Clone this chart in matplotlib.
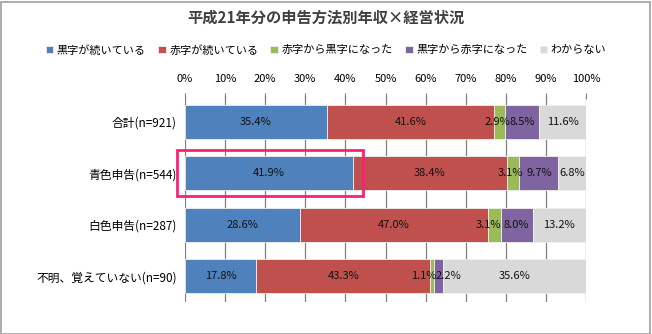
import numpy as np
import matplotlib.pyplot as plt
from matplotlib.patches import Rectangle

plt.rcParams['font.family'] = ['Noto Sans CJK JP', 'DejaVu Sans']

categories = ["合計(n=921)", "青色申告(n=544)", "白色申告(n=287)", "不明、覚えていない(n=90)"]
series_names = ["黒字が続いている", "赤字が続いている", "赤字から黒字になった", "黒字から赤字になった", "わからない"]
kuro = [35.4, 41.9, 28.6, 17.8]
aka = [41.6, 38.4, 47.0, 43.3]
aka_to_kuro = [2.9, 3.1, 3.1, 1.1]
kuro_to_aka = [8.5, 9.7, 8.0, 2.2]
wakaranai = [11.6, 6.8, 13.2, 35.6]
colors = ["#4F81BD", "#C0504D", "#9BBB59", "#8064A2", "#D9D9D9"]

# label nudges (series index, row) -> shift in %, to keep small labels apart
nudge = {(2, 3): -2.0, (3, 3): 2.5, (2, 0): -0.6, (2, 1): -0.8, (2, 2): -1.5}

W, H = 652, 334
fig = plt.figure(figsize=(W / 100, H / 100), dpi=100)
ax = fig.add_axes([185 / W, 1 - 302 / H, (586 - 185) / W, (302 - 96) / H])

y = np.arange(len(categories))
left = np.zeros(len(categories))
fs = 8
for si, (name, vals, c) in enumerate(zip(series_names, [kuro, aka, aka_to_kuro, kuro_to_aka, wakaranai], colors)):
    vals = np.array(vals)
    ax.barh(y, vals, left=left, height=0.66, color=c, edgecolor="#F0F0F0", linewidth=0.6,
            label=name, zorder=2)
    for yi, l, v in zip(y, left, vals):
        ax.text(l + v / 2 + nudge.get((si, yi), 0), yi, f"{v:.1f}%", ha="center", va="center",
                fontsize=fs, color="#111111", zorder=3)
    left += vals

ax.set_xlim(0, 100)
ax.set_ylim(3.5, -0.5)
ax.set_xticks(np.arange(0, 101, 10))
ax.set_xticklabels([f"{t}%" for t in range(0, 101, 10)], fontsize=fs)
ax.xaxis.tick_top()
ax.tick_params(axis="x", length=4, color="#808080", pad=7, direction="inout")
ax.grid(axis="x", color="#808080", linewidth=0.9, zorder=0)
ax.set_yticks(y)
ax.set_yticklabels(categories, fontsize=8.5)
ax.tick_params(axis="y", length=0, pad=6)
for s in ax.spines.values():
    s.set_visible(False)

# highlight box around 青色申告 blue segment
ax.add_patch(Rectangle((-2.0, 0.55), 46.3, 0.9, fill=False, edgecolor="#FF1E78",
                       linewidth=2, clip_on=False, zorder=4))

fig.suptitle("平成21年分の申告方法別年収×経営状況", x=0.5, y=1 - 17 / H, va="center",
             fontsize=11, fontweight="bold", color="#404040")
fig.legend(loc="center", bbox_to_anchor=(0.5, 1 - 50 / H), ncol=5, frameon=False,
           fontsize=8, handlelength=0.7, handleheight=0.7, handletextpad=0.3,
           columnspacing=1.1)

fig.patches.append(Rectangle((0.5 / W, 0.5 / H), 1 - 3 / W, 1 - 2 / H, transform=fig.transFigure,
                             fill=False, edgecolor="#A0A0A0", linewidth=1.2))

fig.savefig("out.png", dpi=100)
